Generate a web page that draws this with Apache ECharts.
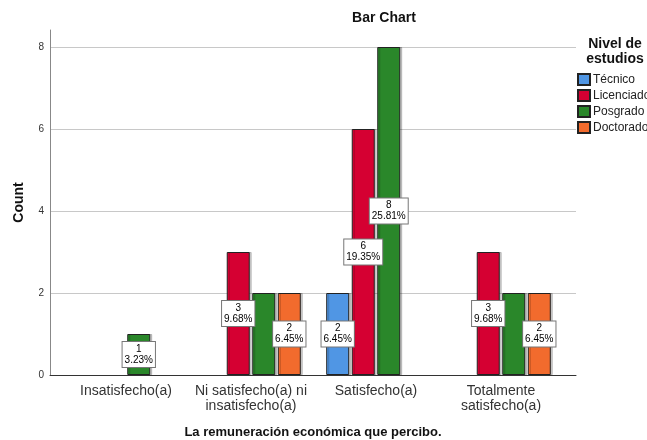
<!DOCTYPE html>
<html>
<head>
<meta charset="utf-8">
<script src="https://cdn.jsdelivr.net/npm/echarts@6/dist/echarts.min.js"></script>
<style>
  html, body { margin: 0; padding: 0; background: #fff; }
  #main { width: 647px; height: 440px; }
</style>
</head>
<body>
<div id="main"></div>
<script>
const categories = ["Insatisfecho(a)", "Ni satisfecho(a) ni\ninsatisfecho(a)", "Satisfecho(a)", "Totalmente\nsatisfecho(a)"];
const levels = ["Técnico", "Licenciado", "Posgrado", "Doctorado"];
const tecnico = [null, null, 2, null];
const licenciado = [null, 3, 6, 3];
const posgrado = [1, 2, 8, 2];
const doctorado = [null, 2, null, 2];
const yTicks = [0, 2, 4, 6, 8];
const colors = ["#5096e4", "#d50032", "#2a872a", "#f26b2d"];

const font = "'Liberation Sans', Arial, sans-serif";
const allData = [tecnico, licenciado, posgrado, doctorado];
const total = allData.flat().reduce((s, v) => s + (v || 0), 0);

let mychart = echarts.init(document.getElementById("main"));

const series = allData.map((arr, i) => ({
  name: levels[i],
  type: "bar",
  xAxisIndex: 1,
  yAxisIndex: 1,
  barWidth: 23,
  barGap: "11%",
  data: arr,
  itemStyle: {
    color: colors[i],
    borderColor: "#222",
    borderWidth: 1,
    shadowColor: "rgba(0,0,0,0.2)",
    shadowOffsetX: 2,
    shadowOffsetY: 0,
    shadowBlur: 0
  },
  labelLayout: { hideOverlap: true },
  label: {
    show: true,
    position: "inside",
    fontFamily: font,
    fontSize: 10,
    lineHeight: 11,
    color: "#000",
    backgroundColor: "#fff",
    borderColor: "#777",
    borderWidth: 1,
    padding: [2, 2, 1, 2],
    align: "center",
    formatter: function(p) {
      return p.value + "\n" + (p.value / total * 100).toFixed(2) + "%";
    }
  }
}));

mychart.setOption({
  textStyle: { fontFamily: font },
  title: [
    {
      text: "Bar Chart",
      left: 384,
      textAlign: "center",
      top: 11,
      padding: 0,
      textStyle: { fontFamily: font, fontSize: 14, fontWeight: "bold", color: "#111" }
    },
    {
      text: "Nivel de\nestudios",
      left: 615,
      textAlign: "center",
      top: 37,
      padding: 0,
      textStyle: { fontFamily: font, fontSize: 14, fontWeight: "bold", color: "#111", lineHeight: 15 }
    }
  ],
  legend: {
    data: levels,
    orient: "vertical",
    left: 577,
    top: 73,
    padding: 0,
    icon: "rect",
    itemWidth: 12,
    itemHeight: 11,
    itemGap: 3,
    textStyle: { fontFamily: font, fontSize: 12, color: "#222", padding: [0, 0, 0, -2], lineHeight: 12 }
  },
  grid: [
    { left: 50, right: 71, top: 47, bottom: 65, outerBoundsMode: "none" },
    { left: 63.5, right: 83.5, top: 47, bottom: 65, outerBoundsMode: "none" },
    { left: 50, right: 71, top: 30, bottom: 65, outerBoundsMode: "none" }
  ],
  xAxis: [
    {
      gridIndex: 0,
      type: "value",
      min: 0,
      max: 1,
      axisLine: { show: true, onZero: false, lineStyle: { color: "#333", width: 1 } },
      axisTick: { show: false },
      axisLabel: { show: false },
      splitLine: { show: false },
      name: "La remuneración económica que percibo.",
      nameLocation: "middle",
      nameGap: 51,
      nameTextStyle: { fontFamily: font, fontSize: 13, fontWeight: "bold", color: "#111" }
    },
    {
      gridIndex: 1,
      type: "category",
      data: categories,
      axisLine: { show: false },
      axisTick: { show: false },
      axisLabel: {
        interval: 0,
        margin: 9,
        fontFamily: font,
        fontSize: 14,
        lineHeight: 15,
        color: "#333"
      }
    },
    {
      gridIndex: 2,
      type: "value",
      show: false
    }
  ],
  yAxis: [
    {
      gridIndex: 0,
      type: "value",
      min: yTicks[0],
      max: yTicks[yTicks.length - 1],
      interval: 2,
      axisLine: { show: false },
      axisTick: { show: false },
      axisLabel: { fontFamily: font, fontSize: 10, color: "#333", margin: 6 },
      splitLine: { show: true, lineStyle: { color: "#c8c8c8", width: 1 } }
    },
    {
      gridIndex: 1,
      type: "value",
      min: yTicks[0],
      max: yTicks[yTicks.length - 1],
      interval: 2,
      show: false
    },
    {
      gridIndex: 2,
      type: "value",
      min: 0,
      max: 1,
      axisLine: { show: true, lineStyle: { color: "#888", width: 1 } },
      axisTick: { show: false },
      axisLabel: { show: false },
      splitLine: { show: false },
      name: "Count",
      nameLocation: "middle",
      nameGap: 24,
      nameRotate: 90,
      nameTextStyle: { fontFamily: font, fontSize: 14, fontWeight: "bold", color: "#111" }
    }
  ],
  series: series
});
</script>
</body>
</html>
